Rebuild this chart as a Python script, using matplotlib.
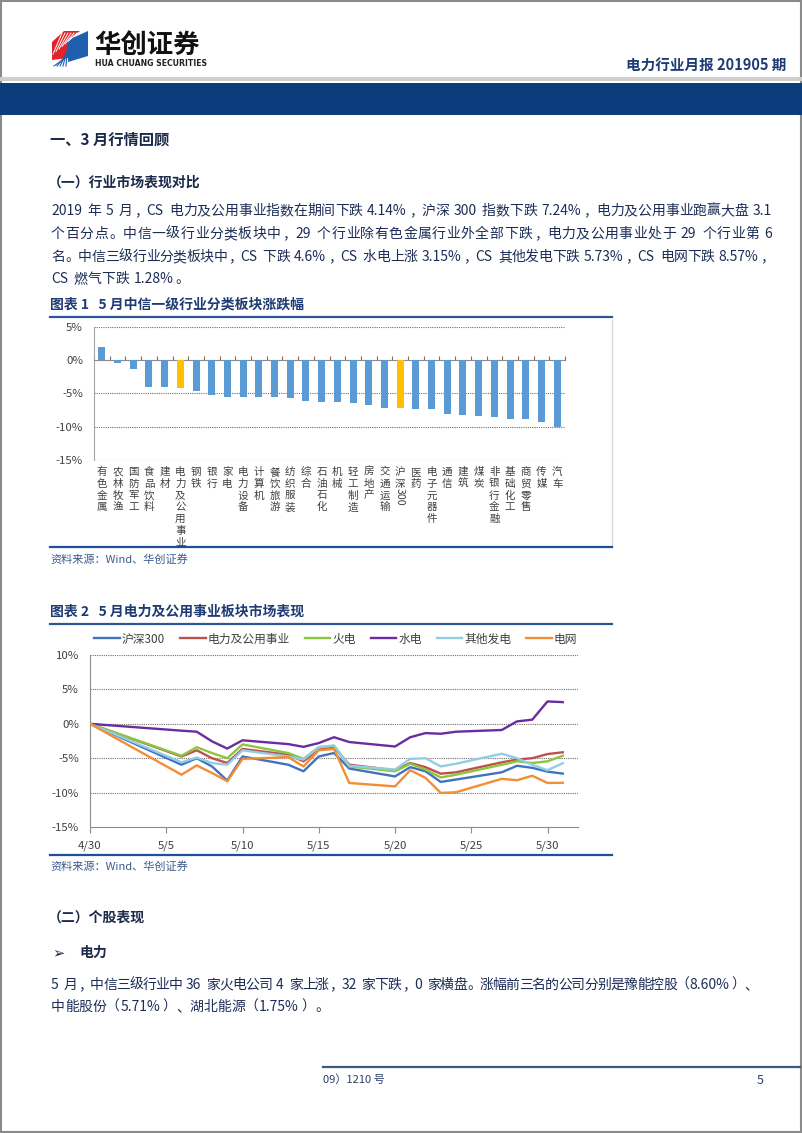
import re
import numpy as np
import pandas as pd
import matplotlib
matplotlib.use('Agg')
import matplotlib.pyplot as plt
from matplotlib.patches import Rectangle, Polygon
from matplotlib.lines import Line2D

plt.rcParams['font.family'] = ['Noto Sans CJK SC', 'DejaVu Sans']

# ---- 图表1 数据 ----
industries = ['有色金属', '农林牧渔', '国防军工', '食品饮料', '建材', '电力及公用事业', '钢铁', '银行',
              '家电', '电力设备', '计算机', '餐饮旅游', '纺织服装', '综合', '石油石化', '机械',
              '轻工制造', '房地产', '交通运输', '沪深300', '医药', '电子元器件', '通信', '建筑',
              '煤炭', '非银行金融', '基础化工', '商贸零售', '传媒', '汽车']
change_pct = [2.0, -0.5, -1.35, -4.0, -4.1, -4.14, -4.7, -5.2, -5.5, -5.5, -5.5, -5.5, -5.7,
              -6.15, -6.25, -6.35, -6.45, -6.7, -7.2, -7.24, -7.4, -7.4, -8.15, -8.25, -8.4,
              -8.55, -8.8, -8.9, -9.25, -10.0]
highlight = ['电力及公用事业', '沪深300']

# ---- 图表2 数据 ----
trade_days = ['2019-04-30', '2019-05-06', '2019-05-07', '2019-05-08', '2019-05-09', '2019-05-10',
              '2019-05-13', '2019-05-14', '2019-05-15', '2019-05-16', '2019-05-17', '2019-05-20',
              '2019-05-21', '2019-05-22', '2019-05-23', '2019-05-24', '2019-05-27', '2019-05-28',
              '2019-05-29', '2019-05-30', '2019-05-31']
hs300 = [0, -5.95, -5.0, -6.2, -8.25, -4.75, -5.95, -6.9, -4.75, -4.25, -6.5, -7.65, -6.3, -6.9,
         -8.45, -8.1, -7.05, -6.1, -6.4, -6.95, -7.24]
utility = [0, -4.75, -3.85, -5.0, -5.7, -3.65, -4.5, -5.45, -3.75, -3.4, -5.95, -6.75, -5.7, -6.3,
           -7.25, -7.05, -5.6, -5.2, -5.0, -4.4, -4.14]
thermal = [0, -4.65, -3.4, -4.25, -5.0, -3.0, -4.25, -5.1, -3.4, -3.2, -6.2, -6.9, -5.8, -6.65,
           -7.8, -7.4, -5.95, -5.45, -5.7, -5.45, -4.65]
hydro = [0, -1.0, -1.15, -2.55, -3.6, -2.4, -2.95, -3.35, -2.8, -1.95, -2.65, -3.3, -1.95, -1.35,
         -1.45, -1.15, -0.9, 0.35, 0.6, 3.25, 3.15]
other_gen = [0, -5.6, -4.9, -5.7, -5.95, -3.85, -4.75, -5.2, -3.4, -3.15, -6.1, -6.65, -5.1, -5.0,
             -6.2, -5.8, -4.35, -5.0, -5.95, -6.75, -5.73]
grid = [0, -7.4, -6.05, -7.15, -8.35, -5.1, -4.85, -6.2, -3.85, -3.65, -8.6, -9.1, -6.75, -7.85,
        -10.05, -9.95, -8.0, -8.2, -7.55, -8.6, -8.57]
series_names = ['沪深300', '电力及公用事业', '火电', '水电', '其他发电', '电网']
series_colors = ['#3f73bf', '#c0504d', '#8cc63f', '#6a2c9e', '#93cde4', '#f28e35']
xtick_dates = ['2019-04-30', '2019-05-05', '2019-05-10', '2019-05-15', '2019-05-20', '2019-05-25', '2019-05-30']
xtick_labels = ['4/30', '5/5', '5/10', '5/15', '5/20', '5/25', '5/30']

W, H = 802, 1133
TXT = '#1c2d57'
NAVY = '#1f3b73'
fig = plt.figure(figsize=(W / 100, H / 100), dpi=100)
renderer = fig.canvas.get_renderer()


def fx(x):
    return x / W


def fy(y):
    return 1 - y / H


def hline(x0, x1, y, color, lw):
    fig.add_artist(Line2D([fx(x0), fx(x1)], [fy(y), fy(y)], color=color, lw=lw,
                          transform=fig.transFigure))


def vline(x, y0, y1, color, lw):
    fig.add_artist(Line2D([fx(x), fx(x)], [fy(y0), fy(y1)], color=color, lw=lw,
                          transform=fig.transFigure))


def rect(x0, y0, x1, y1, color):
    fig.add_artist(Rectangle((fx(x0), fy(y1)), (x1 - x0) / W, (y1 - y0) / H, color=color, lw=0,
                             transform=fig.transFigure))


def text(x, y, s, size=10, color=TXT, weight='normal', ha='left', **kw):
    return fig.text(fx(x), fy(y), s, fontsize=size, color=color, weight=weight, ha=ha,
                    va='center', **kw)


def axes_px(x0, y0, x1, y1):
    return fig.add_axes([fx(x0), fy(y1), (x1 - x0) / W, (y1 - y0) / H])


def para(x0, ybase, s, x1=None, size=10, color=TXT):
    # 正文行：x1 给出时两端对齐
    em = size * 100 / 72
    units, spaced = [], []
    for m in re.finditer(r'( ?)([A-Za-z0-9.%]+|\S)', s):
        spaced.append(bool(m.group(1)))
        units.append(m.group(2))
    widths = []
    for u in units:
        if ord(u[0]) > 0x2e80:
            widths.append(em)
        else:
            t = fig.text(0, 0, u, fontsize=size)
            widths.append(t.get_window_extent(renderer).width + 1.5)
            t.remove()
    base = [0.0] + [em * 0.3 if sp else 0.0 for sp in spaced[1:]]
    extra = 0.0
    if x1 is not None:
        extra = (x1 - x0 - sum(widths) - sum(base)) / (len(units) - 1)
    x = x0
    for k, (u, w) in enumerate(zip(units, widths)):
        if k > 0:
            x += base[k] + extra
        if u in '，。、：；）':
            fig.text(fx(x + em * 0.08), fy(ybase), u, fontsize=size, color=color, va='baseline')
        elif u == '（':
            fig.text(fx(x + em * 0.92), fy(ybase), u, fontsize=size, color=color, va='baseline', ha='right')
        elif ord(u[0]) > 0x2e80:
            fig.text(fx(x + w / 2), fy(ybase), u, fontsize=size, color=color, va='baseline', ha='center')
        else:
            fig.text(fx(x), fy(ybase), u, fontsize=size, color=color, va='baseline')
        x += w


# ---- 页眉 ----
fig.add_artist(Rectangle((0.001, 0.001), 0.998, 0.998, fill=False, ec='#8a8a8a', lw=1.5,
                         transform=fig.transFigure))
fig.add_artist(Polygon([(fx(52), fy(60)), (fx(52), fy(42)), (fx(64), fy(31)), (fx(80), fy(31)),
                        (fx(68), fy(40)), (fx(68), fy(58))], closed=True, color='#e0232b', lw=0,
                       transform=fig.transFigure))
for k in range(6):
    fig.add_artist(Line2D([fx(53 + k * 3), fx(62 + k * 3)], [fy(54 - k * 2.5), fy(33)], color='white', lw=0.7,
                          transform=fig.transFigure))
fig.add_artist(Polygon([(fx(68), fy(40)), (fx(88), fy(31)), (fx(88), fy(56)), (fx(68), fy(62))],
                       closed=True, color='#1f5fae', lw=0, transform=fig.transFigure))
for k in range(5):
    fig.add_artist(Line2D([fx(54 + k * 3), fx(68)], [fy(66), fy(56 - k * 3)], color='#1f5fae', lw=0.8,
                          transform=fig.transFigure))
text(94, 45, '华创证券', size=19, color='#111111', weight='bold')
text(95, 63, 'HUA CHUANG SECURITIES', size=5.6, color='#222222', weight='bold',
     family=['Liberation Sans Narrow', 'DejaVu Sans'])
text(786, 66, '电力行业月报 201905 期', size=10.5, color=NAVY, weight='bold', ha='right')
rect(0, 77, W, 81, '#cfcfcf')
rect(0, 83, W, 115, '#0b3c7c')

# ---- 正文 ----
text(50, 139, '一、3 月行情回顾', size=11, color='#1b2a4a', weight='bold')
text(48, 183, '（一）行业市场表现对比', size=10, color='#1b2a4a', weight='bold')
para(51, 215, '2019 年 5 月，CS 电力及公用事业指数在期间下跌 4.14%，沪深 300 指数下跌 7.24%，电力及公用事业跑赢大盘 3.1', 773)
para(51, 238, '个百分点。中信一级行业分类板块中，29 个行业除有色金属行业外全部下跌，电力及公用事业处于 29 个行业第 6', 773)
para(51, 261, '名。中信三级行业分类板块中，CS 下跌 4.6%，CS 水电上涨 3.15%，CS 其他发电下跌 5.73%，CS 电网下跌 8.57%，', 773)
para(51, 283, 'CS 燃气下跌 1.28%。')

# ---- 图表1 ----
text(50, 305, '图表 1   5 月中信一级行业分类板块涨跌幅', size=10, color=NAVY, weight='bold')
hline(50, 612, 317, '#2e5597', 1.6)
vline(612, 320, 547, '#d9d9d9', 1.0)
hline(50, 612, 547, '#1f4e9a', 1.6)
text(50, 559, '资料来源：Wind、华创证券', size=8, color='#3c5a8c')

ax1 = axes_px(94, 326.7, 565, 460)
x = np.arange(len(industries))
bar_colors = ['#ffc000' if c in highlight else '#5b9bd5' for c in industries]
ax1.bar(x, change_pct, width=0.45, color=bar_colors, zorder=3)
ax1.set_xlim(-0.5, len(industries) - 0.5)
ax1.set_ylim(-15, 5)
ax1.set_yticks([5, 0, -5, -10, -15])
ax1.set_yticklabels(['5%', '0%', '-5%', '-10%', '-15%'])
for v in [5, -5, -10, -15]:
    ax1.axhline(v, color='#6f6f6f', lw=0.8, ls=(0, (1, 1)), zorder=1)
for s in ['top', 'right']:
    ax1.spines[s].set_visible(False)
ax1.spines['bottom'].set_position(('data', 0))
ax1.spines['bottom'].set_color('#8c8c8c')
ax1.spines['left'].set_color('#a6a6a6')
ax1.set_xticks(np.arange(len(industries) + 1) - 0.5)
ax1.tick_params(axis='x', direction='in', length=3, color='#8b6b4b', labelbottom=False)
ax1.tick_params(axis='y', length=0, labelsize=8.2, labelcolor='#404040', pad=8)
for i, c in enumerate(industries):
    m = re.match(r'(\D+)(\d*)', c)
    ax1.annotate('\n'.join(m.group(1)), xy=(i, 0), xycoords=('data', 'axes fraction'),
                 xytext=(0, -5), textcoords='offset points', ha='center', va='top',
                 fontsize=7.6, linespacing=1.22, color='#404040')
    if m.group(2):
        ax1.annotate(m.group(2), xy=(i, 0), xycoords=('data', 'axes fraction'),
                     xytext=(0, -5 - 7.7 * len(m.group(1))), textcoords='offset points',
                     ha='center', va='top', rotation=270, fontsize=7.6, color='#404040')

# ---- 图表2 ----
text(50, 612, '图表 2   5 月电力及公用事业板块市场表现', size=10, color=NAVY, weight='bold')
hline(50, 612, 624, '#2e5597', 1.6)
hline(50, 612, 855, '#1f4e9a', 1.6)
text(50, 866, '资料来源：Wind、华创证券', size=8, color='#3c5a8c')

ax2 = axes_px(90, 655, 578, 827)
d = pd.to_datetime(trade_days)
for name, vals, col in zip(series_names, [hs300, utility, thermal, hydro, other_gen, grid], series_colors):
    ax2.plot(d, vals, color=col, lw=1.7, label=name, solid_joinstyle='round', zorder=3)
ax2.set_xlim(pd.Timestamp('2019-04-30'), pd.Timestamp('2019-06-01'))
ax2.set_ylim(-15, 10)
ax2.set_yticks([10, 5, 0, -5, -10, -15])
ax2.set_yticklabels(['10%', '5%', '0%', '-5%', '-10%', '-15%'])
ax2.set_xticks(pd.to_datetime(xtick_dates))
ax2.set_xticklabels(xtick_labels)
for v in [10, 5, 0, -5, -10]:
    ax2.axhline(v, color='#6f6f6f', lw=0.8, ls=(0, (1, 1)), zorder=1)
for s in ['top', 'right']:
    ax2.spines[s].set_visible(False)
ax2.spines['bottom'].set_color('#8c8c8c')
ax2.spines['left'].set_color('#8c8c8c')
ax2.spines['left'].set_linestyle((0, (1, 1)))
ax2.tick_params(axis='x', direction='out', length=4, color='#8c8c8c', labelsize=8.2,
                labelcolor='#404040', pad=6)
ax2.tick_params(axis='y', length=0, labelsize=8.2, labelcolor='#404040', pad=8)
leg = ax2.legend(ncol=6, loc='center left', bbox_to_anchor=(fx(94), fy(639)),
                 bbox_transform=fig.transFigure, frameon=False, fontsize=8.5, handlelength=2.2,
                 handletextpad=0.15, columnspacing=1.25, borderpad=0, borderaxespad=0)
for t in leg.get_texts():
    t.set_color('#404040')

# ---- 个股表现 ----
text(48, 918, '（二）个股表现', size=10, color='#1b2a4a', weight='bold')
text(52, 953, '➢', size=10.5, color='#1b2a4a', family=['DejaVu Sans'])
text(79, 953, '电力', size=10, color='#1b2a4a', weight='bold')
para(51, 989, '5 月，中信三级行业中 36 家火电公司 4 家上涨，32 家下跌，0 家横盘。涨幅前三名的公司分别是豫能控股（8.60%）、', 757)
para(51, 1011, '中能股份（5.71%）、湖北能源（1.75%）。')

# ---- 页脚 ----
hline(323, 800, 1067, '#3b5a80', 1.6)
text(323, 1080, '09）1210 号', size=8, color='#2a3f6a')
text(757, 1080, '5', size=9, color='#2a3f6a')

fig.savefig('out.png', dpi=100)
